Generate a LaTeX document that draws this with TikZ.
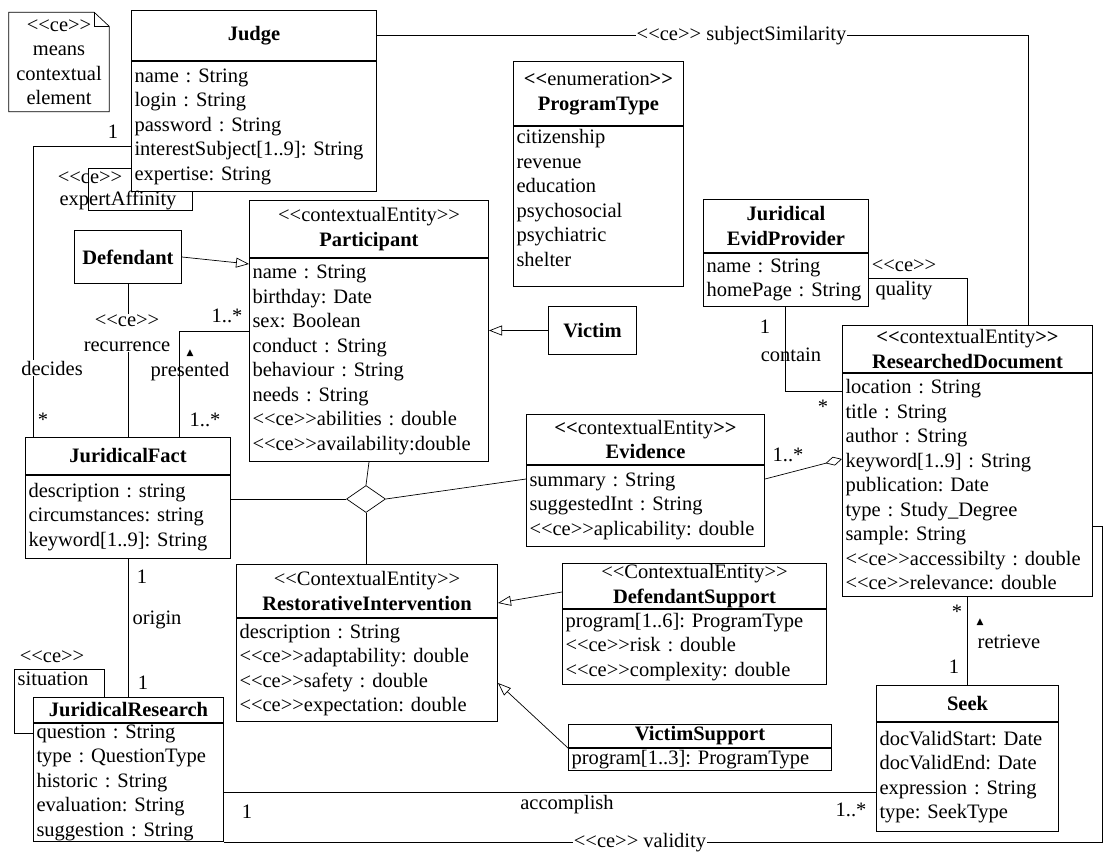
\documentclass[tikz,border=0pt]{standalone}
\usepackage{fontspec}
\setmainfont{Liberation Serif}
\newfontfamily\symfont{DejaVu Sans}
\usetikzlibrary{arrows.meta,positioning,shapes.geometric}
\frenchspacing
\newcommand{\stt}[1]{<\kern0pt<#1>\kern0pt>}
\newcommand{\bstt}[1]{\textbf{<\kern0pt<}#1\textbf{>\kern0pt>}}
\newcommand{\cetag}{\stt{ce}}
\newcommand{\uptri}{{\symfont\fontsize{9}{9}\selectfont ▲}}

\begin{document}
\begin{tikzpicture}[x=1pt, y=-1pt,
  font=\fontsize{20.5}{24.5}\selectfont, >={Triangle[open, length=13pt, width=10pt]},
  head/.style={draw, line width=1pt, anchor=north west, align=center, inner sep=1pt},
  body/.style={draw, line width=1pt, align=left, inner xsep=3pt, inner ysep=1pt},
  assoc/.style={line width=0.7pt},
  gen/.style={->, line width=0.7pt},
  lbl/.style={inner sep=1pt},
  lblw/.style={fill=white, inner sep=1pt}]
  \useasboundingbox (0,0) rectangle (1103,852);

  % note
  \node[align=center, inner sep=0pt, minimum width=100pt, minimum height=99pt] (note) at (59,62)
     {\cetag\\means\\contextual\\element};
  \draw[line width=0.7pt] (note.south west) -- (note.north west) -- ([xshift=-15pt]note.north east)
     -- ([yshift=-14pt]note.north east) -- (note.south east) -- cycle;
  \draw[line width=0.7pt] ([xshift=-15pt]note.north east) |- ([yshift=-14pt]note.north east);

  % classes
  \node[head, minimum width=245pt, minimum height=50pt] (judgeH) at (131,10) {\textbf{Judge}};
  \node[body, text width=239pt, minimum height=130pt, below=0pt of judgeH] (judgeB)
     {name : String\\login : String\\password : String\\interestSubject[1..9]: String\\expertise: String};

  \node[head, minimum width=170pt, minimum height=64pt] (progH) at (513,61)
     {\bstt{enumeration}\\\textbf{ProgramType}};
  \node[body, text width=164pt, minimum height=160pt, below=0pt of progH] (progB)
     {citizenship\\revenue\\education\\psychosocial\\psychiatric\\shelter\\[-7pt]\mbox{}};

  \node[head, minimum width=239pt, minimum height=57pt] (partH) at (249,200)
     {\stt{contextualEntity}\\\textbf{Participant}};
  \node[body, text width=233pt, minimum height=203pt, below=0pt of partH] (partB)
     {name : String\\birthday: Date\\sex: Boolean\\conduct : String\\behaviour : String\\needs : String\\\cetag abilities : double\\\cetag availability:double};

  \node[head, minimum width=107pt, minimum height=53pt] (defendant) at (74,230) {\textbf{Defendant}};
  \node[head, minimum width=88pt, minimum height=48pt] (victim) at (548,306) {\textbf{Victim}};

  \node[head, minimum width=165pt, minimum height=53pt] (jepH) at (703,199)
     {\textbf{Juridical}\\\textbf{EvidProvider}};
  \node[body, text width=159pt, minimum height=53pt, below=0pt of jepH] (jepB)
     {name : String\\homePage : String};

  \node[head, minimum width=250pt, minimum height=47pt] (rdH) at (842,325)
     {\bstt{contextualEntity}\\\textbf{ResearchedDocument}};
  \node[body, text width=244pt, minimum height=223pt, below=0pt of rdH] (rdB)
     {location : String\\title : String\\author : String\\keyword[1..9] : String\\publication: Date\\type : Study\_Degree\\sample: String\\\cetag accessibilty : double\\\cetag relevance: double};

  \node[head, minimum width=205pt, minimum height=37pt] (jfH) at (25,437) {\textbf{JuridicalFact}};
  \node[body, text width=199pt, minimum height=83pt, below=0pt of jfH] (jfB)
     {description : string\\circumstances: string\\keyword[1..9]: String};

  \node[head, minimum width=238pt, minimum height=50pt] (evH) at (526,414)
     {\bstt{contextualEntity}\\\textbf{Evidence}};
  \node[body, text width=232pt, minimum height=81pt, below=0pt of evH] (evB)
     {summary : String\\suggestedInt : String\\\cetag aplicability: double};

  \node[head, minimum width=261pt, minimum height=53pt] (riH) at (236,564)
     {\stt{ContextualEntity}\\\textbf{RestorativeIntervention}};
  \node[body, text width=255pt, minimum height=103pt, below=0pt of riH] (riB)
     {description : String\\\cetag adaptability: double\\\cetag safety : double\\\cetag expectation: double};

  \node[head, minimum width=264pt, minimum height=45pt] (dsH) at (562,563)
     {\stt{ContextualEntity}\\\textbf{DefendantSupport}};
  \node[body, text width=258pt, minimum height=75pt, below=0pt of dsH] (dsB)
     {program[1..6]: ProgramType\\\cetag risk : double\\\cetag complexity: double};

  \node[head, minimum width=263pt, minimum height=23pt] (vsH) at (568,724) {\textbf{VictimSupport}};
  \node[body, text width=257pt, minimum height=22pt, below=0pt of vsH] (vsB) {program[1..3]: ProgramType};

  \node[head, minimum width=182pt, minimum height=36pt] (seekH) at (876,685) {\textbf{Seek}};
  \node[body, text width=176pt, minimum height=109pt, below=0pt of seekH] (seekB)
     {docValidStart: Date\\docValidEnd: Date\\expression : String\\type: SeekType};

  \node[head, minimum width=190pt, minimum height=25pt] (jrH) at (33,697) {\textbf{JuridicalResearch}};
  \node[body, text width=184pt, minimum height=118pt, below=0pt of jrH] (jrB)
     {question : String\\type : QuestionType\\historic : String\\evaluation: String\\suggestion : String};

  % n-ary association
  \node[draw, diamond, line width=0.7pt, minimum width=39pt, minimum height=27pt, inner sep=0pt] (nary) at (366,499) {};
  \draw[assoc] (jfB.east |- nary.west) -- (nary.west);
  \draw[assoc] (partB.south) -- (nary.north);
  \draw[assoc] (nary.south) -- (riH.north -| nary.south);
  \draw[assoc] (nary.east) -- (evB.west |- 0,479);

  % associations
  \draw[assoc] (judgeH.east) -| (rdH.north -| 1028,0)
     node[lblw, pos=0.28] (simLbl) {\cetag{} subjectSimilarity};
  \draw[assoc] (judgeB.west |- 0,146) -| (jfH.north -| 33,0);
  \draw[assoc] (judgeB.west |- 0,168) -| (88,210) -| (judgeB.south -| 192,0);
  \draw[assoc] (defendant.south) -- (jfH.north -| defendant.south);
  \draw[assoc] (partB.west |- 0,331) -| (jfH.north -| 179,0);
  \draw[assoc, -{Diamond[open, length=17pt, width=9pt]}] (evB.east |- 0,479) -- (rdB.west |- 0,459);
  \draw[assoc] (jepB.south -| 785,0) |- (rdB.west |- 0,391);
  \draw[assoc] (jepB.east |- 0,278) -| (rdH.north);
  \draw[assoc] (jfB.south -| 128,0) -- (jrH.north -| 128,0);
  \draw[assoc] (jrH.north -| 104,0) |- (14,669) |- (jrB.west |- 0,733);
  \draw[assoc] (jrB.east |- 0,792) -- (seekB.west |- 0,792);
  \draw[assoc] (rdB.south) -- (seekH.north);
  \draw[assoc] (jrB.south east) -| (1102,526) -- (rdB.east |- 0,526);

  % generalizations
  \draw[gen] (defendant.east) -- (partB.west |- 0,264);
  \draw[gen] (victim.west) -- (partB.east |- victim.west);
  \draw[gen] (dsH.west |- 0,592) -- (riH.east |- 0,603);
  \draw[gen] (vsH.south west) -- (riB.east |- 0,683);

  % labels
  \node[lbl] (decOne) at (113,132) {1};
  \node[lblw] (decName) at (52,368) {decides};
  \node[lbl] (decMany) at (43,420) {*};
  \node[lbl] (eaSt) at (90,178) {\cetag};
  \node[lbl] (eaName) at (118,200) {expertAffinity};
  \node[lblw, align=center] (recName) at (127,333) {\cetag\\recurrence};
  \node[lbl] (preOne) at (227,316) {1..*};
  \node[lbl] (preTri) at (190,353) {\uptri};
  \node[lbl] (preName) at (190,372) {presented};
  \node[lbl] (preMany) at (205,420) {1..*};
  \node[lbl] (evMany) at (788,455) {1..*};
  \node[lbl] (conOne) at (765,327) {1};
  \node[lbl] (conName) at (791,355) {contain};
  \node[lbl] (conMany) at (823,407) {*};
  \node[lbl, align=center] (qualName) at (904,280) {\cetag\\quality};
  \node[lbl] (oriOne) at (142,577) {1};
  \node[lbl] (oriName) at (157,620) {origin};
  \node[lbl] (oriTwo) at (143,683) {1};
  \node[lbl] (sitSt) at (52,657) {\cetag};
  \node[lbl] (sitName) at (53,679) {situation};
  \node[lbl] (accOne) at (247,812) {1};
  \node[lbl] (accName) at (567,805) {accomplish};
  \node[lbl] (accMany) at (851,810) {1..*};
  \node[lbl] (retMany) at (957,612) {*};
  \node[lbl] (retTri) at (980,622) {\uptri};
  \node[lbl] (retName) at (1009,642) {retrieve};
  \node[lbl] (retOne) at (954,667) {1};
  \node[lblw] (valName) at (640,843) {\cetag{} validity};
\end{tikzpicture}
\end{document}
